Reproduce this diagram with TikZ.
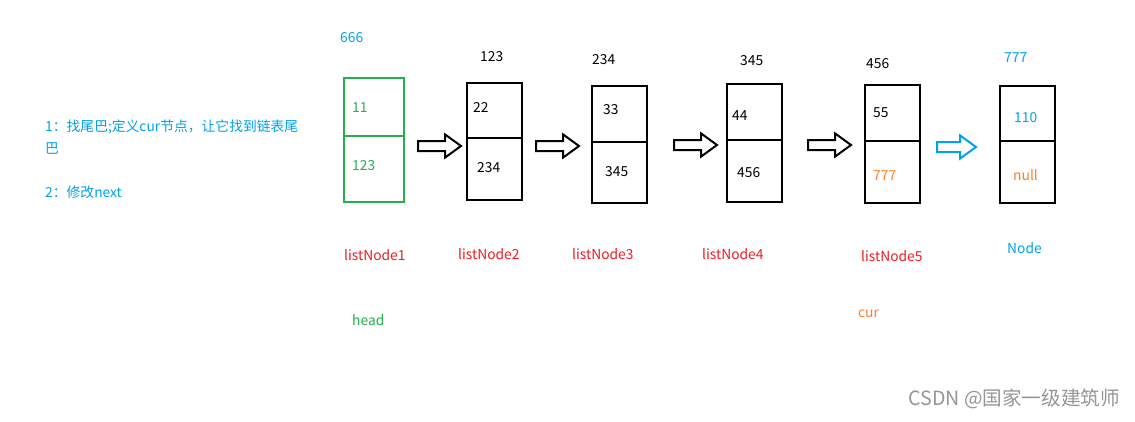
\documentclass[tikz,border=0pt]{standalone}
\usepackage{fontspec}
\setmainfont{Noto Sans CJK SC}
\usetikzlibrary{shapes.arrows}
\definecolor{paintblue}{RGB}{0,162,232}
\definecolor{paintred}{RGB}{237,28,36}
\definecolor{paintgreen}{RGB}{34,177,76}
\definecolor{paintorange}{RGB}{255,127,39}
\definecolor{markgray}{RGB}{150,150,150}

\begin{document}
\begin{tikzpicture}[x=1pt, y=-1pt,
        cell/.style={draw, line width=2.2pt, inner sep=0pt, outer sep=0pt, minimum width=55pt},
        txt/.style={anchor=mid west, inner sep=0pt, yshift=-2.5pt, font=\fontsize{13.8}{16}\selectfont},
        nextarrow/.style={single arrow, draw, line width=2pt, inner sep=0pt, outer sep=0pt,
                anchor=tail, text height=8pt, text depth=0pt, minimum height=43pt,
                single arrow head extend=6.5pt, single arrow tip angle=72}]
        \useasboundingbox[fill=white] (0,0) rectangle (1135,421);

        % notes
        \node (n1) [txt, paintblue] at (45,126) {1：找尾巴;定义cur节点，让它找到链表尾};
        \node (n2) [txt, paintblue] at (45,148) {巴};
        \node (n3) [txt, paintblue] at (45,192) {2：修改next};

        % boxes
        \node (t1) [cell, paintgreen, minimum width=60pt, minimum height=58pt] at (374,107) {};
        \node (b1) [cell, paintgreen, minimum width=60pt, minimum height=66pt] at (374,169) {};
        \node (t2) [cell, minimum height=55pt] at (494.5,110.5) {};
        \node (b2) [cell, minimum height=62pt] at (494.5,169) {};
        \node (t3) [cell, minimum height=56pt] at (619.5,114) {};
        \node (b3) [cell, minimum height=61pt] at (619.5,172.5) {};
        \node (t4) [cell, minimum height=56pt] at (754.5,112) {};
        \node (b4) [cell, minimum height=62pt] at (754.5,171) {};
        \node (t5) [cell, minimum height=56pt] at (892.5,113) {};
        \node (b5) [cell, minimum height=62pt] at (892.5,172) {};
        \node (t6) [cell, minimum height=55pt] at (1027.5,113.5) {};
        \node (b6) [cell, minimum height=62pt] at (1027.5,172) {};

        % values
        \node (v1) [txt, paintgreen] at (352,107) {11};
        \node (p1) [txt, paintgreen] at (352,165) {123};
        \node (v2) [txt] at (473,107) {22};
        \node (p2) [txt] at (477,167) {234};
        \node (v3) [txt] at (603,109) {33};
        \node (p3) [txt] at (605,171) {345};
        \node (v4) [txt] at (732,115) {44};
        \node (p4) [txt] at (737,172) {456};
        \node (v5) [txt] at (873,112) {55};
        \node (p5) [txt, paintorange] at (873,175) {777};
        \node (v6) [txt, paintblue] at (1014,117) {110};
        \node (p6) [txt, paintorange] at (1013,175) {null};

        % addresses
        \node (a1) [txt, paintblue] at (340,37) {666};
        \node (a2) [txt] at (480,56) {123};
        \node (a3) [txt] at (592,59) {234};
        \node (a4) [txt] at (740,60) {345};
        \node (a5) [txt] at (866,63) {456};
        \node (a6) [txt, paintblue] at (1004,57) {777};

        % names
        \node (l1) [txt, paintred] at (344,255) {listNode1};
        \node (l2) [txt, paintred] at (458,254) {listNode2};
        \node (l3) [txt, paintred] at (572,254) {listNode3};
        \node (l4) [txt, paintred] at (702,254) {listNode4};
        \node (l5) [txt, paintred] at (861,256) {listNode5};
        \node (l6) [txt, paintblue] at (1007,248) {Node};
        \node (hd) [txt, paintgreen] at (352,320) {head};
        \node (cr) [txt, paintorange] at (858,312) {cur};

        % next arrows
        \node (r1) [nextarrow] at (418,146) {};
        \node (r2) [nextarrow] at (536,146) {};
        \node (r3) [nextarrow] at (674,145) {};
        \node (r4) [nextarrow] at (808,145) {};
        \node (r5) [nextarrow, paintblue, minimum height=39pt] at (937,147) {};

        \node (wm) [anchor=mid east, inner sep=0pt, markgray, font=\fontsize{19.6}{22}\selectfont] at (1120,403) {CSDN @国家一级建筑师};
\end{tikzpicture}
\end{document}
